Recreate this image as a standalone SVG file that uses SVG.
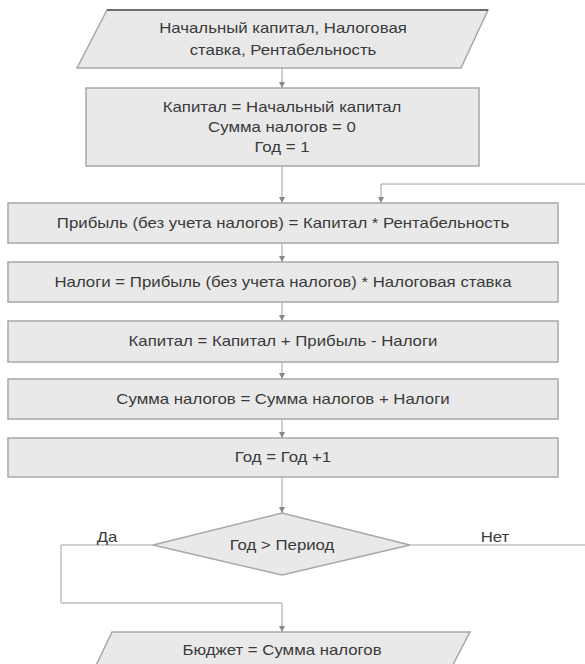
<svg xmlns="http://www.w3.org/2000/svg" width="585" height="664" viewBox="0 0 585 664">
<defs>
<marker id="arr" viewBox="0 0 6 6" refX="6" refY="3" markerWidth="6" markerHeight="6" orient="auto" markerUnits="userSpaceOnUse">
<path d="M0,0 L6,3 L0,6 z" fill="#888"/>
</marker>
<style>
.box{fill:#e9e9e9;stroke:#a8a8a8;stroke-width:1.5}
.t{font-family:"Liberation Sans",Arial,sans-serif;font-size:14px;fill:#3a3a3a;text-anchor:middle;dominant-baseline:central}
.c{fill:none;stroke:#a0a0a0;stroke-width:1}
.a{marker-end:url(#arr)}
</style>
</defs>
<rect width="585" height="664" fill="#fff"/>
<g id="connectors">
<path class="c a" d="M282,68 V88"/>
<path class="c a" d="M282,166 V203"/>
<path class="c a" d="M585,184 H381 V203"/>
<path class="c a" d="M282,243 V262"/>
<path class="c a" d="M282,302 V321"/>
<path class="c a" d="M282,362 V379"/>
<path class="c a" d="M282,419 V438"/>
<path class="c a" d="M282,477 V513"/>
<path class="c a" d="M153,545 H61 V603 H282 V632"/>
<path class="c" d="M410,545 H585"/>
<g transform="translate(107,0) scale(1.2,1)"><text class="t" x="0" y="537">Да</text></g>
<g transform="translate(495,0) scale(1.2,1)"><text class="t" x="0" y="537">Нет</text></g>
</g>
<g id="input">
<polygon class="box" points="107,10 488,10 461,68 77,68"/>
<line x1="107" y1="10" x2="488" y2="10" stroke="#555" stroke-width="1.5"/>
<g transform="translate(283,0) scale(1.2,1)">
<text class="t" x="0" y="28">Начальный капитал, Налоговая</text>
<text class="t" x="0" y="50">ставка, Рентабельность</text>
</g>
</g>
<g id="init">
<rect class="box" x="86" y="88" width="393" height="78"/>
<g transform="translate(282,0) scale(1.2,1)">
<text class="t" x="0" y="107">Капитал = Начальный капитал</text>
<text class="t" x="0" y="127">Сумма налогов = 0</text>
<text class="t" x="0" y="147">Год = 1</text>
</g>
</g>
<g id="profit">
<rect class="box" x="8" y="203" width="550" height="40"/>
<g transform="translate(283,0) scale(1.2,1)"><text class="t" x="0" y="223">Прибыль (без учета налогов) = Капитал * Рентабельность</text></g>
</g>
<g id="taxes">
<rect class="box" x="8" y="262" width="550" height="40"/>
<g transform="translate(283,0) scale(1.2,1)"><text class="t" x="0" y="282">Налоги = Прибыль (без учета налогов) * Налоговая ставка</text></g>
</g>
<g id="capital">
<rect class="box" x="8" y="321" width="550" height="41"/>
<g transform="translate(283,0) scale(1.2,1)"><text class="t" x="0" y="341">Капитал = Капитал + Прибыль - Налоги</text></g>
</g>
<g id="sum">
<rect class="box" x="8" y="379" width="550" height="40"/>
<g transform="translate(283,0) scale(1.2,1)"><text class="t" x="0" y="399">Сумма налогов = Сумма налогов + Налоги</text></g>
</g>
<g id="year">
<rect class="box" x="8" y="438" width="550" height="39"/>
<g transform="translate(283,0) scale(1.2,1)"><text class="t" x="0" y="457">Год = Год +1</text></g>
</g>
<g id="decision">
<polygon class="box" points="282,513 410,545 282,575 153,545"/>
<g transform="translate(282,0) scale(1.2,1)"><text class="t" x="0" y="545">Год &gt; Период</text></g>
</g>
<g id="output">
<polygon class="box" points="112,632 470,632 445,680 89,680"/>
<g transform="translate(282,0) scale(1.2,1)"><text class="t" x="0" y="650">Бюджет = Сумма налогов</text></g>
</g>
</svg>
